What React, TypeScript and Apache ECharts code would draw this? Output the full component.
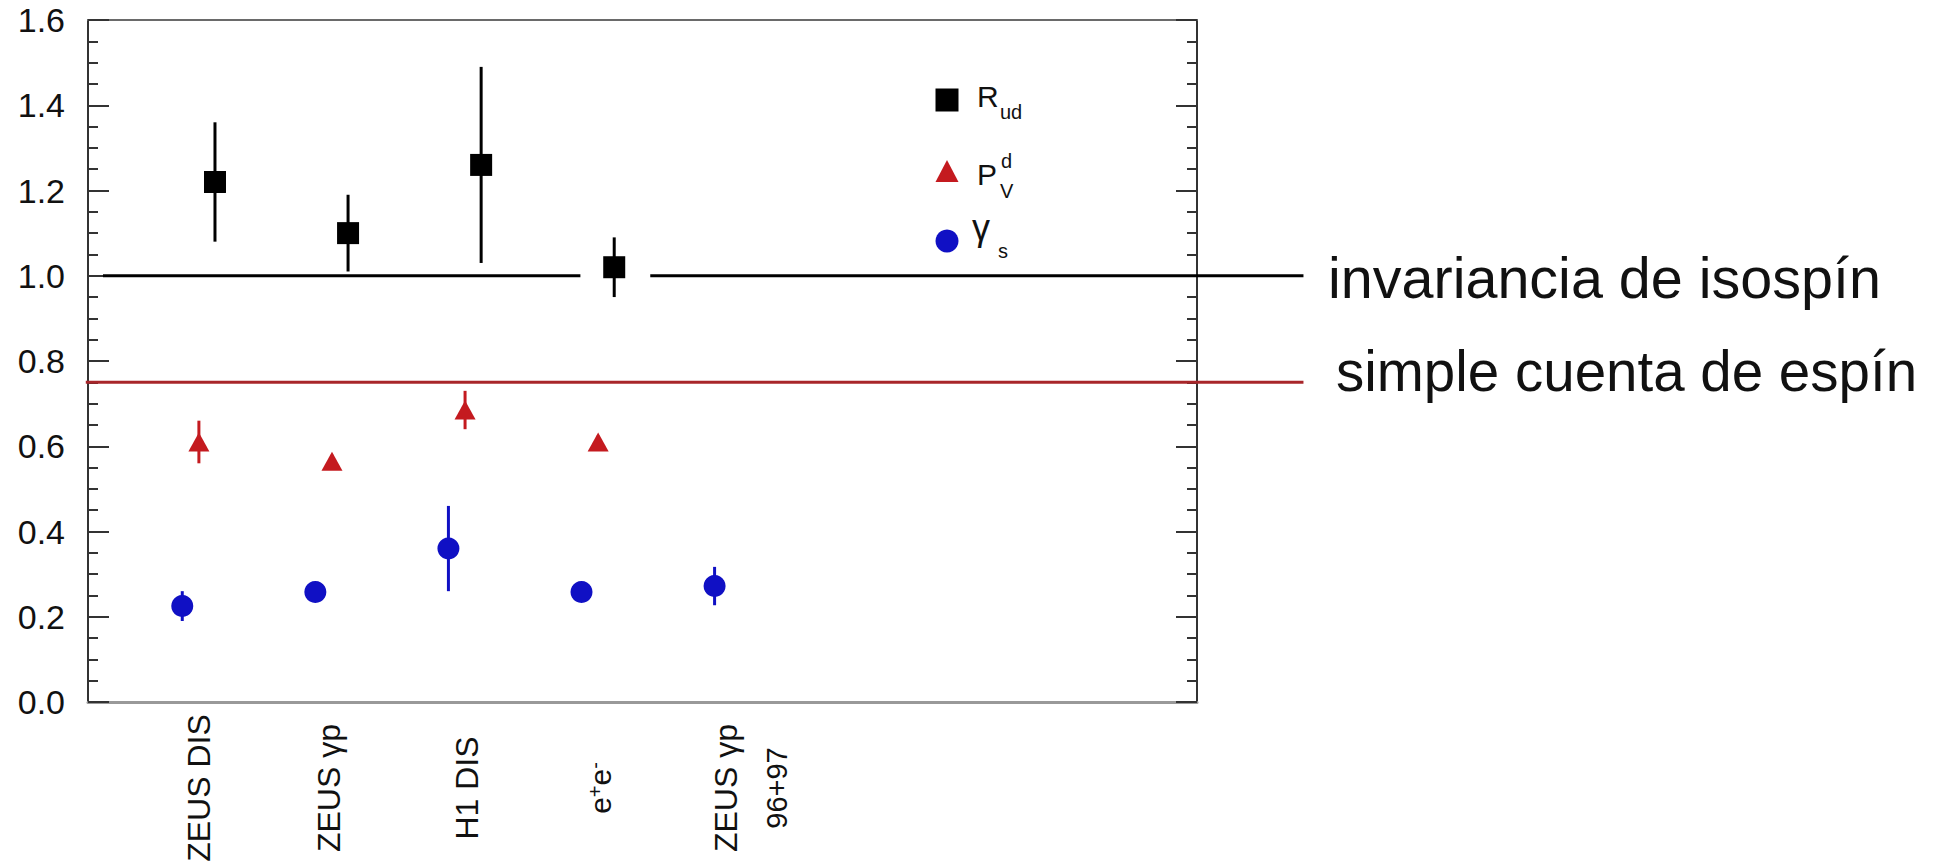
import React, { useEffect, useRef } from 'react';
import * as echarts from 'echarts';

const FONT = '"Liberation Sans", Arial, Helvetica, sans-serif';

// Measurements (x positions are slots on a 0..100 horizontal scale)
const categoryPos = [10, 22, 34, 46, 58];
const rudOffset = 1.45;
const pvdOffset = 0;
const gsOffset = -1.5;

// R_ud
const rudValues = [1.22, 1.1, 1.26, 1.02];
const rudErrors = [0.14, 0.09, 0.23, 0.07];
// P_V^d
const pvdValues = [0.61, 0.565, 0.685, 0.61];
const pvdErrors = [0.05, 0.015, 0.045, 0.015];
// gamma_s
const gsValues = [0.225, 0.258, 0.36, 0.258, 0.272];
const gsErrors = [0.035, 0.015, 0.1, 0.012, 0.045];

// x-axis labels
const xLabelPos = [10, 21.7, 34.2, 46.2, 57.5, 62.1];
const xLabelText = [
  '{a|ZEUS DIS}',
  '{a|ZEUS γp}',
  '{a|H1 DIS}',
  '{e|e}{s|+}{e|e}{s|-}',
  '{a|ZEUS γp}',
  '{b|96+97}',
];

// y axis
const yMin = 0;
const yMax = 1.6;
const yStep = 0.2;

// reference levels: [xStart, xEnd, level]
const isospinSegments = [
  [1.35, 44.4, 1.0],
  [50.7, 109.6, 1.0],
];
const spinCountSegments = [[-0.2, 109.6, 0.75]];

const BLACK = '#000000';
const RED = '#c41a1f';
const BLUE = '#1010c4';

const errorBarItem = (params: any, api: any) => {
  const x = api.value(0);
  const lo = api.coord([x, api.value(1)]);
  const hi = api.coord([x, api.value(2)]);
  return {
    type: 'line',
    shape: { x1: lo[0], y1: lo[1], x2: hi[0], y2: hi[1] },
    style: { stroke: api.visual('color'), lineWidth: 3 },
  };
};

const levelLineItem = (params: any, api: any) => {
  const y = api.value(2);
  const a = api.coord([api.value(0), y]);
  const b = api.coord([api.value(1), y]);
  return {
    type: 'line',
    shape: { x1: a[0], y1: a[1], x2: b[0], y2: b[1] },
    style: { stroke: api.visual('color'), lineWidth: 3 },
  };
};

const yAxisBase = (position: 'left' | 'right', showLabel: boolean) => ({
  type: 'value',
  position,
  min: yMin,
  max: yMax,
  interval: yStep,
  axisLine: { show: true, onZero: false, lineStyle: { color: '#333', width: 2 } },
  axisTick: { show: true, inside: true, length: 21, lineStyle: { color: '#333', width: 2 } },
  minorTick: { show: true, splitNumber: 4, length: 10, lineStyle: { color: '#333', width: 2 } },
  splitLine: { show: false },
  minorSplitLine: { show: false },
  axisLabel: {
    show: showLabel,
    fontSize: 34,
    fontFamily: FONT,
    color: '#111',
    margin: 23,
    padding: [10, 0, 0, 0],
    formatter: (v: number) => v.toFixed(1),
  },
});

// text placed by its alphabetic baseline
const baselineText = (text: string, x: number, baseline: number, size: number) => ({
  type: 'text',
  x,
  y: baseline - 0.3465 * size,
  style: {
    text,
    fontSize: size,
    fontFamily: FONT,
    fill: '#111',
    align: 'left',
    textAlign: 'left',
    verticalAlign: 'middle',
    textVerticalAlign: 'middle',
  },
});

export default function App() {
  const ref = useRef<HTMLDivElement>(null);

  useEffect(() => {
    if (!ref.current) return;
    const chart = echarts.init(ref.current, null, { renderer: 'svg' });

    const option: any = {
      animation: false,
      backgroundColor: '#ffffff',
      grid: {
        left: 88,
        top: 20,
        width: 1109,
        height: 682,
        containLabel: false,
        outerBoundsMode: 'none',
      },
      xAxis: [
        {
          type: 'value',
          position: 'bottom',
          min: 0,
          max: 100,
          axisLine: { show: true, onZero: false, lineStyle: { color: '#999', width: 3 } },
          axisTick: { show: false },
          splitLine: { show: false },
          axisLabel: {
            show: true,
            customValues: xLabelPos,
            rotate: 90,
            align: 'center',
            margin: 86,
            color: '#111',
            fontFamily: FONT,
            formatter: (value: number) => {
              const i = xLabelPos.findIndex((p) => Math.abs(p - value) < 1e-6);
              return i >= 0 ? xLabelText[i] : '';
            },
            rich: {
              a: { fontSize: 32, fontFamily: FONT, color: '#111' },
              b: { fontSize: 29, fontFamily: FONT, color: '#111' },
              e: { fontSize: 30, lineHeight: 30, fontFamily: FONT, color: '#111', verticalAlign: 'bottom' },
              s: { fontSize: 20, lineHeight: 20, fontFamily: FONT, color: '#111', verticalAlign: 'top' },
            },
          },
        },
        {
          type: 'value',
          position: 'top',
          min: 0,
          max: 100,
          axisLine: { show: true, onZero: false, lineStyle: { color: '#6a6a6a', width: 2 } },
          axisTick: { show: false },
          axisLabel: { show: false },
          splitLine: { show: false },
        },
      ],
      yAxis: [yAxisBase('left', true), yAxisBase('right', false)],
      series: [
        {
          name: 'invariancia de isospín',
          type: 'custom',
          renderItem: levelLineItem,
          clip: false,
          z: 1,
          itemStyle: { color: BLACK },
          encode: { x: [0, 1], y: 2 },
          data: isospinSegments,
          silent: true,
        },
        {
          name: 'simple cuenta de espín',
          type: 'custom',
          renderItem: levelLineItem,
          clip: false,
          z: 1,
          itemStyle: { color: '#a8262a' },
          encode: { x: [0, 1], y: 2 },
          data: spinCountSegments,
          silent: true,
        },
        {
          name: 'R_ud error',
          type: 'custom',
          renderItem: errorBarItem,
          z: 2,
          itemStyle: { color: BLACK },
          encode: { x: 0, y: [1, 2] },
          data: rudValues.map((v, i) => [categoryPos[i] + rudOffset, v - rudErrors[i], v + rudErrors[i]]),
        },
        {
          name: 'P_V^d error',
          type: 'custom',
          renderItem: errorBarItem,
          z: 2,
          itemStyle: { color: RED },
          encode: { x: 0, y: [1, 2] },
          data: pvdValues.map((v, i) => [categoryPos[i] + pvdOffset, v - pvdErrors[i], v + pvdErrors[i]]),
        },
        {
          name: 'gamma_s error',
          type: 'custom',
          renderItem: errorBarItem,
          z: 2,
          itemStyle: { color: BLUE },
          encode: { x: 0, y: [1, 2] },
          data: gsValues.map((v, i) => [categoryPos[i] + gsOffset, v - gsErrors[i], v + gsErrors[i]]),
        },
        {
          name: 'R_ud',
          type: 'scatter',
          symbol: 'rect',
          symbolSize: 22,
          z: 3,
          itemStyle: { color: BLACK, opacity: 1 },
          data: rudValues.map((v, i) => [categoryPos[i] + rudOffset, v]),
        },
        {
          name: 'P_V^d',
          type: 'scatter',
          symbol: 'triangle',
          symbolSize: [21, 19],
          z: 3,
          itemStyle: { color: RED, opacity: 1 },
          data: pvdValues.map((v, i) => [categoryPos[i] + pvdOffset, v]),
        },
        {
          name: 'gamma_s',
          type: 'scatter',
          symbol: 'circle',
          symbolSize: 22,
          z: 3,
          itemStyle: { color: BLUE, opacity: 1 },
          data: gsValues.map((v, i) => [categoryPos[i] + gsOffset, v]),
        },
      ],
      graphic: [
        // legend markers
        { type: 'rect', shape: { x: 935.5, y: 88.5, width: 23, height: 23 }, style: { fill: BLACK } },
        {
          type: 'polygon',
          shape: { points: [[935.5, 182], [958.5, 182], [947, 160]] },
          style: { fill: RED },
        },
        { type: 'circle', shape: { cx: 947, cy: 241, r: 11.5 }, style: { fill: BLUE } },
        // legend labels
        baselineText('R', 977, 107, 30),
        baselineText('ud', 1000, 119, 20),
        baselineText('P', 977, 185, 30),
        baselineText('d', 1001, 168, 20),
        baselineText('V', 1000, 198, 20),
        baselineText('γ', 972, 240, 36),
        baselineText('s', 998, 258, 20),
        // annotations for the reference levels
        baselineText('invariancia de isospín', 1328, 298, 57.5),
        baselineText('simple cuenta de espín', 1336, 391, 56.5),
      ],
    };

    chart.setOption(option);
    return () => chart.dispose();
  }, []);

  return (
    <div
      ref={ref}
      style={{ position: 'absolute', left: 0, top: 0, width: 1937, height: 861, background: '#ffffff' }}
    />
  );
}
